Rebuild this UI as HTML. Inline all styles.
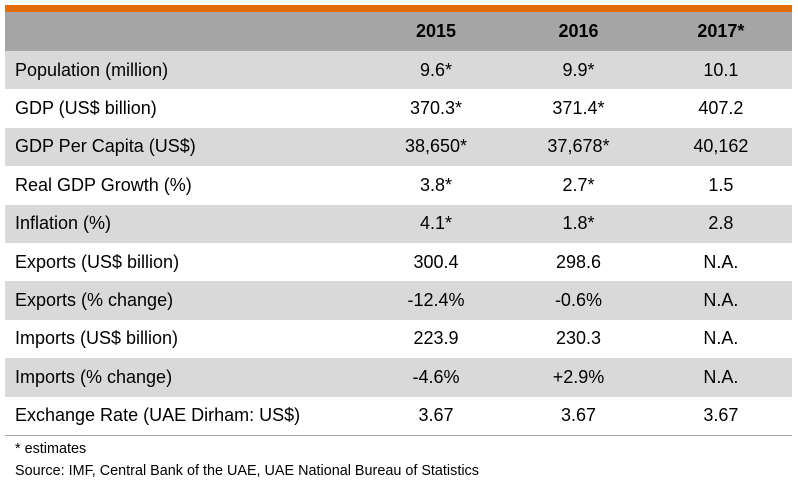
<!DOCTYPE html>
<html><head><meta charset="utf-8"><style>
body{margin:0;width:798px;height:485px;background:#fff;font-family:"Liberation Sans",Arial,sans-serif;color:#000;position:relative;overflow:hidden}
#bar{position:absolute;left:5px;top:5px;width:787px;height:7px;background:#e36c0a}
#tbl{position:absolute;left:5px;top:12px;width:787px;border-collapse:collapse;border-bottom:1px solid #a5a5a5}
#tbl td{font-size:18px;padding:0;height:38.4px;vertical-align:middle}
#tbl tr.h td{height:39px;background:#a5a5a5;font-weight:bold}
#tbl tr.g td{background:#d9d9d9}
#tbl td.l{padding-left:10px;width:358px}
#tbl td.c{text-align:center;width:145px}
.f{position:absolute;left:15px;font-size:14.4px}
</style></head><body>
<div id="bar"></div>
<table id="tbl">
<tr class="h"><td class="l"></td><td class="c">2015</td><td class="c">2016</td><td class="c">2017*</td></tr>
<tr class="g"><td class="l">Population (million)</td><td class="c">9.6*</td><td class="c">9.9*</td><td class="c">10.1</td></tr>
<tr><td class="l">GDP (US$ billion)</td><td class="c">370.3*</td><td class="c">371.4*</td><td class="c">407.2</td></tr>
<tr class="g"><td class="l">GDP Per Capita (US$)</td><td class="c">38,650*</td><td class="c">37,678*</td><td class="c">40,162</td></tr>
<tr><td class="l">Real GDP Growth (%)</td><td class="c">3.8*</td><td class="c">2.7*</td><td class="c">1.5</td></tr>
<tr class="g"><td class="l">Inflation (%)</td><td class="c">4.1*</td><td class="c">1.8*</td><td class="c">2.8</td></tr>
<tr><td class="l">Exports (US$ billion)</td><td class="c">300.4</td><td class="c">298.6</td><td class="c">N.A.</td></tr>
<tr class="g"><td class="l">Exports (% change)</td><td class="c">-12.4%</td><td class="c">-0.6%</td><td class="c">N.A.</td></tr>
<tr><td class="l">Imports (US$ billion)</td><td class="c">223.9</td><td class="c">230.3</td><td class="c">N.A.</td></tr>
<tr class="g"><td class="l">Imports (% change)</td><td class="c">-4.6%</td><td class="c">+2.9%</td><td class="c">N.A.</td></tr>
<tr><td class="l">Exchange Rate (UAE Dirham: US$)</td><td class="c">3.67</td><td class="c">3.67</td><td class="c">3.67</td></tr>
</table>
<div class="f" style="top:441px">* estimates</div>
<div class="f" style="top:463px">Source: IMF, Central Bank of the UAE, UAE National Bureau of Statistics</div>
</body></html>
